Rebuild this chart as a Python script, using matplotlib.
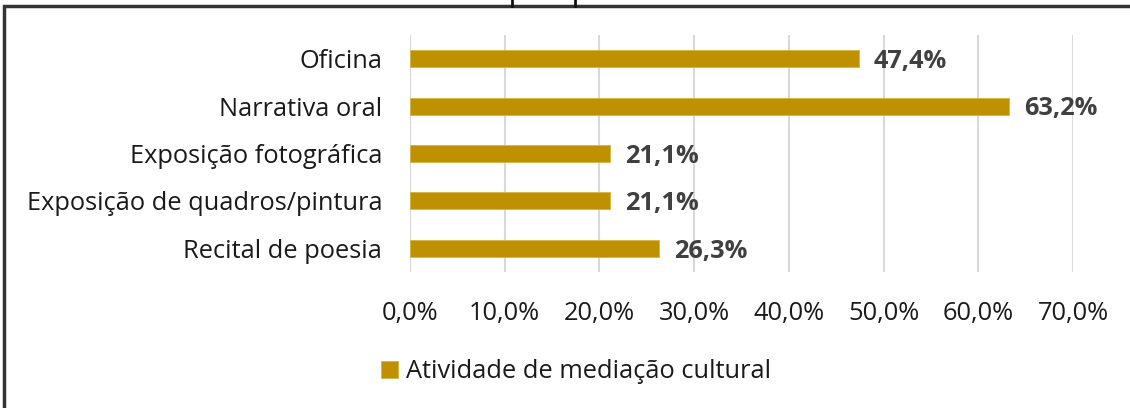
import matplotlib
matplotlib.use("Agg")
import matplotlib.pyplot as plt
from matplotlib.patches import Rectangle
from matplotlib.lines import Line2D
from matplotlib.ticker import FuncFormatter

categories = ["Oficina", "Narrativa oral", "Exposição fotográfica",
              "Exposição de quadros/pintura", "Recital de poesia"]
values = [47.4, 63.2, 21.1, 21.1, 26.3]
series_name = "Atividade de mediação cultural"
xticks = [0, 10, 20, 30, 40, 50, 60, 70]

plt.rcParams['font.family'] = ['Open Sans', 'DejaVu Sans']

W, H = 1130, 408
FS = 18.3
fig = plt.figure(figsize=(W / 100, H / 100), dpi=100)
ax = fig.add_axes([410 / W, 1 - 272 / H, (1073 - 410) / W, (272 - 35) / H])

y = list(range(len(categories)))
bars = ax.barh(y, values, height=0.36, color="#BF9000", edgecolor="#D8B440",
               linewidth=0.6, zorder=3, label=series_name)
ax.set_ylim(len(categories) - 0.5, -0.5)
ax.set_xlim(0, 70)
ax.set_yticks(y)
ax.set_yticklabels(categories, fontsize=FS, color="#1a1a1a")
ax.set_xticks(xticks)
ax.xaxis.set_major_formatter(FuncFormatter(lambda v, p: f"{v:.1f}%".replace(".", ",")))
ax.tick_params(axis='x', labelsize=FS, labelcolor="#1a1a1a", length=0, pad=21)
ax.tick_params(axis='y', length=0, pad=20)
ax.grid(axis='x', color="#D9D9D9", linewidth=1.5, zorder=0)
for s in ax.spines.values():
    s.set_visible(False)

for yi, v in zip(y, values):
    ax.text(v + 1.6, yi + 0.06, f"{v:.1f}%".replace(".", ","), va='center', ha='left',
            fontsize=FS, fontweight='bold', color="#404040", zorder=4)

leg = fig.legend(handles=[bars], labels=[series_name], loc='center left',
                 bbox_to_anchor=(381 / W, 1 - 372 / H), frameon=False,
                 borderpad=0, borderaxespad=0,
                 fontsize=FS, handlelength=0.65, handleheight=0.65,
                 handletextpad=0.35, labelcolor="#1a1a1a")

# outer frame (partially cropped)
fig.patches.append(Rectangle((4 / W, -0.1), 1.2, 1 - 6 / H + 0.1,
                             transform=fig.transFigure, fill=False,
                             edgecolor="#333333", linewidth=2.5))
for xp in (512, 575):
    fig.lines.append(Line2D([xp / W, xp / W], [1 - 6 / H, 1.0],
                            transform=fig.transFigure, color="#111111", linewidth=2))

fig.savefig("out.png", dpi=100, facecolor="white")
